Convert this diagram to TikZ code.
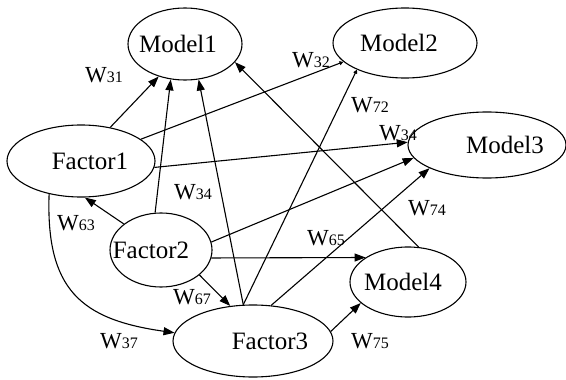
\documentclass[tikz,border=0pt]{standalone}
\usepackage{fontspec}
\setmainfont{Liberation Serif}
\usetikzlibrary{arrows.meta,shapes.geometric}

\tikzset{
  var/.style={draw, ellipse, inner sep=0pt, font=\fontsize{25}{27}\selectfont},
  wt/.style={inner sep=0pt, font=\fontsize{23}{24}\selectfont},
  tiny/.style={-{Triangle[length=4pt,width=4pt]}},
}
\newcommand{\wlab}[1]{W{\fontsize{16}{16}\selectfont #1}}
% text set off the centre of its ellipse without changing the ellipse
\newcommand{\offtext}[1]{\makebox[0pt]{#1}}

\begin{document}
\begin{tikzpicture}[->,>={Triangle[length=11pt,width=8pt]},x=1pt,y=-1pt,line width=1.1pt]
  \useasboundingbox (0,0) rectangle (566,380);
  \node (M1) [var, minimum width=114pt, minimum height=72pt] at (185,44)  {\offtext{Model1\hspace*{14pt}}};
  \node (M2) [var, minimum width=144pt, minimum height=70pt] at (405,43)  {\offtext{Model2\hspace*{12pt}}};
  \node (M3) [var, minimum width=158pt, minimum height=66pt] at (487,145) {\offtext{\hspace*{36pt}Model3}};
  \node (M4) [var, minimum width=116pt, minimum height=70pt] at (408,282) {\offtext{Model4\hspace*{10pt}}};
  \node (F1) [var, minimum width=148pt, minimum height=72pt] at (81,161)  {\offtext{\hspace*{18pt}Factor1}};
  \node (F2) [var, minimum width=102pt, minimum height=74pt] at (161,250) {\offtext{Factor2\hspace*{20pt}}};
  \node (F3) [var, minimum width=160pt, minimum height=72pt] at (253,341) {\offtext{\hspace*{34pt}Factor3}};

  % weights
  \node (w31) [wt] at (104,75)  {\wlab{31}};
  \node (w32) [wt] at (311,60)  {\wlab{32}};
  \node (w72) [wt] at (370,105) {\wlab{72}};
  \node (w34) [wt] at (398,133) {\wlab{34}};
  \node (w34b) [wt] at (193,192) {\wlab{34}};
  \node (w63) [wt] at (76,223)  {\wlab{63}};
  \node (w65) [wt] at (326,238) {\wlab{65}};
  \node (w74) [wt] at (427,208) {\wlab{74}};
  \node (w67) [wt] at (192,297) {\wlab{67}};
  \node (w37) [wt] at (119,341) {\wlab{37}};
  \node (w75) [wt] at (370,341) {\wlab{75}};

  \path (F1.49)  edge        (M1.231)
        (F1.20)  edge[tiny]  (M2.197)
        (F1.355) edge        (M3.178)
        (F1.226) edge[out=268,in=172,looseness=1.3] (F3.174)
        (F2.99)  edge        (M1.248)
        (F2.9)   edge        (M3.190)
        (F2.-9)  edge        (M4.150)
        (F2.145) edge        (F1.276)
        (F2.327) edge        (F3.123)
        (F3.105) edge        (M1.291)
                 edge[tiny]  (M2.209)
        (F3.63)  edge        (M3.202)
        (F3.7)   edge        (M4.204)
        (M4.73)  edge        (M1.340);
\end{tikzpicture}
\end{document}
